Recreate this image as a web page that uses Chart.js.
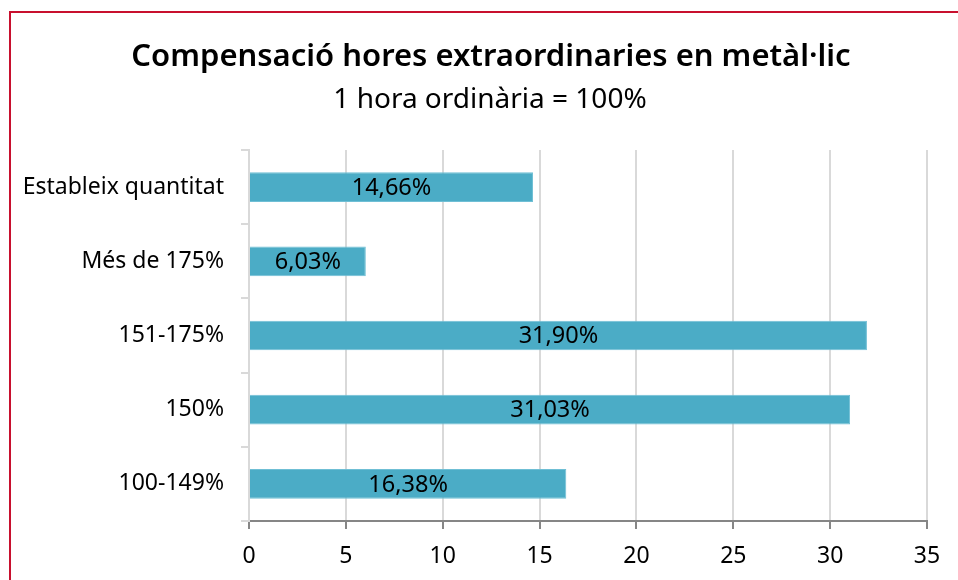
<!DOCTYPE html>
<html lang="ca">
<head>
  <meta charset="UTF-8">
  <title>Compensació hores extraordinaries</title>
  <script src="https://cdn.jsdelivr.net/npm/chart.js"></script>
  <style>
    html, body {
      margin: 0;
      padding: 0;
      background: #fff;
      overflow: hidden;
    }
    #frame {
      position: absolute;
      left: 9px;
      top: 11px;
      width: 1000px;
      height: 700px;
      border-left: 2px solid #c8102e;
      border-top: 2px solid #c8102e;
    }
    #wrap {
      position: absolute;
      left: 0;
      top: 0;
      width: 958px;
      height: 580px;
    }
  </style>
</head>
<body>
  <div id="frame"></div>
  <!-- lang="en" al canvas: evita la lligadura catalana de l·l -->
  <div id="wrap"><canvas id="chart" lang="en" width="958" height="580"></canvas></div>

  <script>
    const categories = ['Estableix quantitat', 'Més de 175%', '151-175%', '150%', '100-149%'];
    const values = [14.66, 6.03, 31.90, 31.03, 16.38];
    const xTicks = [0, 5, 10, 15, 20, 25, 30, 35];

    const titleText = 'Compensació hores extraordinaries en metàl·lic';
    const subtitleText = '1 hora ordinària = 100%';

    const FONT = "'Noto Sans', sans-serif";

    // títol i subtítol, centrats una mica a la dreta del centre del llenç
    const headings = {
      id: 'headings',
      afterDraw(chart) {
        const ctx = chart.ctx;
        ctx.save();
        ctx.fillStyle = '#000';
        ctx.textAlign = 'center';
        ctx.textBaseline = 'middle';
        ctx.font = '600 31px ' + FONT;
        ctx.fillText(titleText, 491, 57);
        ctx.font = '28px ' + FONT;
        ctx.fillText(subtitleText, 490, 100);
        ctx.restore();
      }
    };

    // etiquetes de valor al centre de cada barra
    const barLabels = {
      id: 'barLabels',
      afterDatasetsDraw(chart) {
        const ctx = chart.ctx;
        const meta = chart.getDatasetMeta(0);
        ctx.save();
        ctx.font = '23.5px ' + FONT;
        ctx.fillStyle = '#000';
        ctx.textAlign = 'center';
        ctx.textBaseline = 'middle';
        meta.data.forEach((bar, i) => {
          const txt = values[i].toFixed(2).replace('.', ',') + '%';
          const cx = (bar.base + bar.x) / 2;
          ctx.fillText(txt, cx, bar.y + 1);
        });
        ctx.restore();
      }
    };

    new Chart(document.getElementById('chart'), {
      type: 'bar',
      data: {
        labels: categories,
        datasets: [{
          data: values,
          backgroundColor: '#4bacc6',
          borderColor: '#6fbfd5',
          borderWidth: 1,
          barPercentage: 0.4,
          categoryPercentage: 1
        }]
      },
      options: {
        indexAxis: 'y',
        responsive: false,
        animation: false,
        layout: { padding: { top: 150, right: 31, bottom: 0, left: 0 } },
        plugins: {
          legend: { display: false },
          tooltip: { enabled: false }
        },
        scales: {
          x: {
            min: 0,
            max: 35,
            afterBuildTicks(axis) {
              axis.ticks = xTicks.map(v => ({ value: v }));
            },
            afterFit(axis) { axis.height = 59; },
            grid: {
              color: '#d9d9d9',
              lineWidth: 2,
              tickColor: '#868686',
              tickLength: 8
            },
            border: { color: '#868686', width: 2 },
            ticks: {
              color: '#000',
              font: { family: FONT, size: 23 },
              padding: 14
            }
          },
          y: {
            afterFit(axis) { axis.width = 249; },
            grid: {
              drawOnChartArea: false,
              color: '#d9d9d9',
              lineWidth: 2,
              tickLength: 8
            },
            border: { color: '#d9d9d9', width: 2 },
            ticks: {
              color: '#000',
              font: { family: FONT, size: 23 },
              padding: 17
            }
          }
        }
      },
      plugins: [barLabels, headings]
    });
  </script>
</body>
</html>
